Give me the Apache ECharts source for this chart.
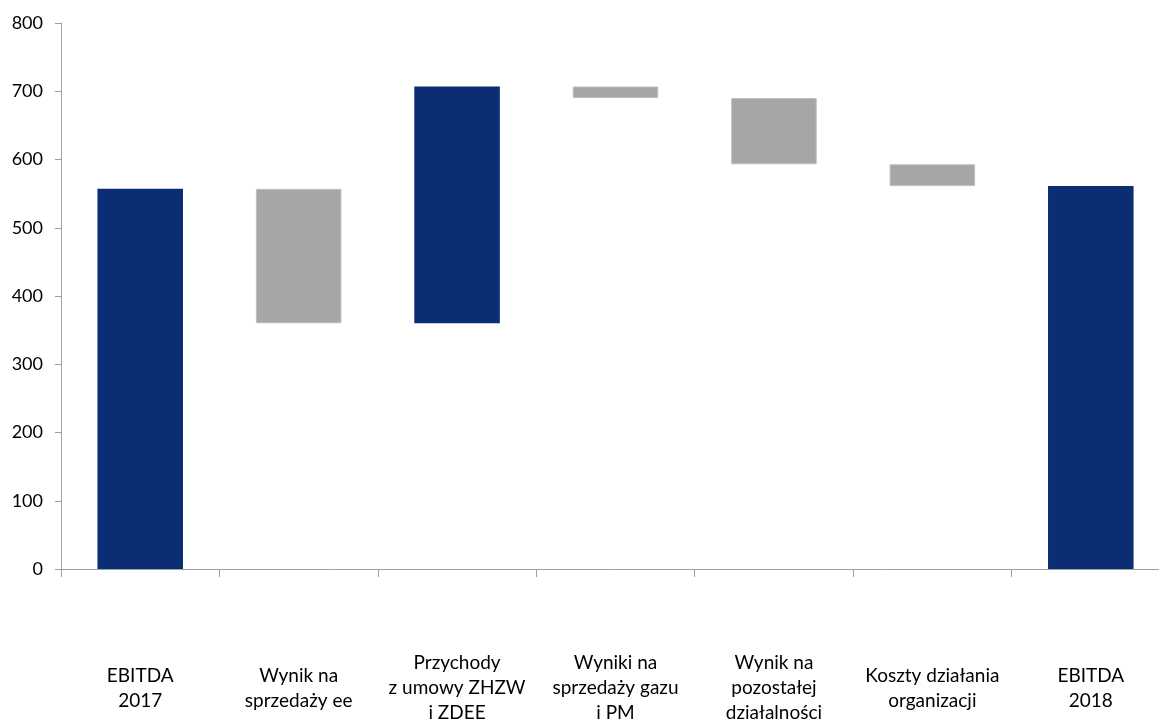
<!DOCTYPE html>
<html>
<head>
<meta charset="utf-8">
<script src="https://cdn.jsdelivr.net/npm/echarts@6/dist/echarts.min.js"></script>
<style>
html,body{margin:0;padding:0;background:#fff;}
#chart{width:1159px;height:720px;}
</style>
</head>
<body>
<div id="chart"></div>
<script>
var categories = [
  'EBITDA\n2017',
  'Wynik na\nsprzedaży ee',
  'Przychody\nz umowy ZHZW\ni ZDEE',
  'Wyniki na\nsprzedaży gazu\ni PM',
  'Wynik na\npozostałej\ndziałalności',
  'Koszty działania\norganizacji',
  'EBITDA\n2018'
];
// bottom and top value of each waterfall bar
var barLow  = [0,   360, 360, 690, 593, 561, 0];
var barHigh = [557, 557, 707, 707, 690, 593, 561];
var barKind = ['total', 'down', 'up', 'down', 'down', 'down', 'total'];
var yTicks = [0, 100, 200, 300, 400, 500, 600, 700, 800];

var NAVY = '#0A2D74';
var GREY = '#A6A6A6';
var FONT = 'Lato';

var baseData = barLow.slice();
var sizeData = barHigh.map(function (h, i) {
  return {
    value: h - barLow[i],
    itemStyle: {
      color: barKind[i] === 'down' ? GREY : NAVY,
      borderColor: barKind[i] === 'down' ? '#BFBFBF' : NAVY,
      borderWidth: barKind[i] === 'down' ? 1 : 0
    }
  };
});

var chart = echarts.init(document.getElementById('chart'), null, {renderer: 'canvas'});
chart.setOption({
  animation: false,
  backgroundColor: '#fff',
  grid: {left: 61, right: -11, top: 23, bottom: 151, containLabel: false, outerBoundsMode: 'none'},
  xAxis: {
    type: 'category',
    data: categories,
    boundaryGap: true,
    axisLine: {lineStyle: {color: '#A0A0A0', width: 1}},
    axisTick: {show: true, length: 8, alignWithLabel: false, lineStyle: {color: '#A0A0A0'}},
    axisLabel: {
      interval: 0,
      color: '#000',
      fontFamily: FONT,
      fontSize: 19,
      lineHeight: 25,
      margin: 119,
      verticalAlign: 'middle',
      align: 'center',
      hideOverlap: false
    }
  },
  yAxis: {
    type: 'value',
    min: yTicks[0],
    max: yTicks[yTicks.length - 1],
    interval: 100,
    splitLine: {show: false},
    axisLine: {show: true, lineStyle: {color: '#A0A0A0', width: 1}},
    axisTick: {show: true, length: 6, lineStyle: {color: '#A0A0A0'}},
    axisLabel: {color: '#000', fontFamily: FONT, fontSize: 18, margin: 18}
  },
  series: [
    {
      type: 'bar',
      stack: 'wf',
      data: baseData,
      barWidth: '54%',
      itemStyle: {color: 'transparent'},
      silent: true
    },
    {
      type: 'bar',
      stack: 'wf',
      data: sizeData,
      barWidth: '54%'
    }
  ]
});
</script>
</body>
</html>
